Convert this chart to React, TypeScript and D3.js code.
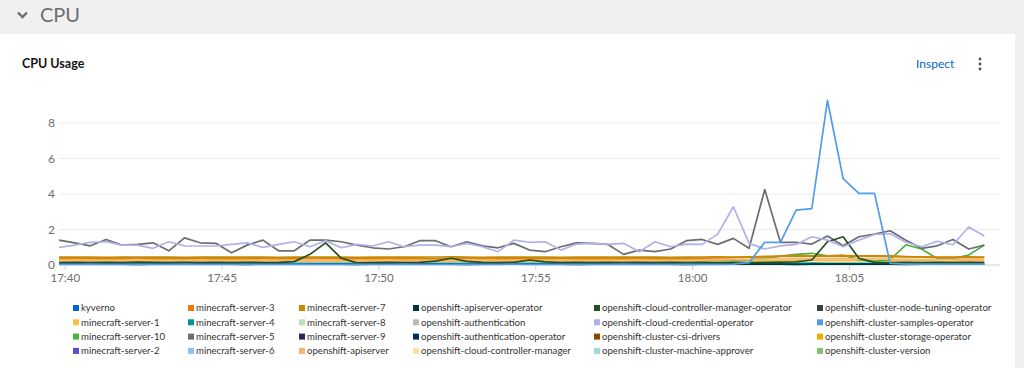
import React, { useEffect, useRef } from 'react';
import * as d3 from 'd3';

// time window shown on the chart (last 30 min)
const windowStart = new Date(2024, 0, 1, 17, 39, 48);
const windowEnd = new Date(2024, 0, 1, 18, 9, 48);
const stepSeconds = 30;

const xTickLabels = ['17:40', '17:45', '17:50', '17:55', '18:00', '18:05'];
const yTickValues = [0, 2, 4, 6, 8];

const seriesNames = [
  'kyverno', 'minecraft-server-1', 'minecraft-server-10', 'minecraft-server-2',
  'minecraft-server-3', 'minecraft-server-4', 'minecraft-server-5', 'minecraft-server-6',
  'minecraft-server-7', 'minecraft-server-8', 'minecraft-server-9', 'openshift-apiserver',
  'openshift-apiserver-operator', 'openshift-authentication', 'openshift-authentication-operator', 'openshift-cloud-controller-manager',
  'openshift-cloud-controller-manager-operator', 'openshift-cloud-credential-operator', 'openshift-cluster-csi-drivers', 'openshift-cluster-machine-approver',
  'openshift-cluster-node-tuning-operator', 'openshift-cluster-samples-operator', 'openshift-cluster-storage-operator', 'openshift-cluster-version'
];

const seriesColors = [
  '#0066cc', '#f4c145', '#4cb140', '#5752d1',
  '#ec7a08', '#009596', '#6a6e73', '#8bc1f7',
  '#c58c00', '#bde2b9', '#2a265f', '#f4b678',
  '#003737', '#b8bbbe', '#002f5d', '#f9e0a2',
  '#23511e', '#b2b0ea', '#8f4700', '#a2d9d9',
  '#3c3f42', '#519de9', '#f0ab00', '#7cc674'
];

// CPU cores per namespace, one value every 30s
const minecraft5 = [
  1.40, 1.25, 1.08, 1.44, 1.12, 1.16, 1.25, 0.80, 1.53, 1.25,
  1.22, 0.69, 1.12, 1.40, 0.80, 0.80, 1.40, 1.40, 1.31, 1.12,
  0.97, 0.90, 1.03, 1.37, 1.37, 1.03, 1.31, 1.08, 0.97, 1.22,
  0.84, 0.75, 1.03, 1.25, 1.22, 1.16, 0.60, 0.84, 0.75, 0.90,
  1.37, 1.44, 1.16, 1.50, 0.94, 4.25, 1.28, 1.28, 1.18, 1.63,
  1.08, 1.59, 1.74, 1.93, 1.40, 0.94, 1.08, 1.44, 0.90, 1.12
];

const cloudCredential = [
  0.99, 1.12, 1.28, 1.31, 1.12, 1.12, 0.94, 1.31, 1.08, 1.07,
  1.07, 1.16, 1.25, 0.99, 1.16, 1.31, 1.03, 1.37, 0.97, 1.16,
  1.07, 1.31, 1.03, 1.12, 1.12, 1.03, 1.22, 1.03, 0.75, 1.40,
  1.28, 1.31, 0.84, 1.18, 1.22, 1.16, 1.22, 0.75, 1.31, 1.03,
  1.18, 1.16, 1.74, 3.28, 1.22, 0.90, 1.08, 1.16, 1.59, 1.40,
  1.03, 1.40, 1.72, 1.76, 1.28, 1.03, 1.34, 1.14, 2.14, 1.63
];

const samplesOperator = [
  0.04, 0.04, 0.05, 0.04, 0.04, 0.03, 0.04, 0.04, 0.05, 0.04,
  0.04, 0.04, 0.03, 0.04, 0.04, 0.05, 0.04, 0.04, 0.04, 0.03,
  0.04, 0.04, 0.05, 0.04, 0.04, 0.04, 0.03, 0.04, 0.04, 0.05,
  0.04, 0.04, 0.04, 0.03, 0.04, 0.04, 0.05, 0.04, 0.04, 0.04,
  0.03, 0.04, 0.04, 0.05, 0.13, 1.28, 1.28, 3.09, 3.18, 9.27,
  4.87, 4.03, 4.03, 0.09, 0.05, 0.05, 0.05, 0.05, 0.05, 0.05
];

const ccmOperator = [
  0.14, 0.15, 0.14, 0.15, 0.14, 0.16, 0.15, 0.14, 0.15, 0.14,
  0.15, 0.14, 0.15, 0.14, 0.15, 0.19, 0.60, 1.25, 0.38, 0.12,
  0.14, 0.15, 0.14, 0.15, 0.22, 0.38, 0.20, 0.15, 0.14, 0.15,
  0.28, 0.18, 0.14, 0.15, 0.14, 0.15, 0.14, 0.15, 0.14, 0.15,
  0.14, 0.15, 0.14, 0.15, 0.14, 0.15, 0.16, 0.18, 0.28, 1.31,
  1.59, 0.38, 0.15, 0.14, 0.15, 0.14, 0.15, 0.14, 0.15, 0.14
];

const minecraft10 = [
  0.36, 0.38, 0.37, 0.35, 0.34, 0.33, 0.35, 0.36, 0.34, 0.33,
  0.32, 0.33, 0.34, 0.35, 0.33, 0.32, 0.31, 0.33, 0.35, 0.34,
  0.32, 0.33, 0.34, 0.32, 0.31, 0.33, 0.34, 0.32, 0.31, 0.30,
  0.32, 0.33, 0.31, 0.30, 0.32, 0.34, 0.33, 0.31, 0.30, 0.32,
  0.33, 0.31, 0.30, 0.29, 0.30, 0.38, 0.50, 0.60, 0.66, 0.52,
  0.55, 0.30, 0.20, 0.30, 1.14, 0.90, 0.36, 0.36, 0.56, 1.12
];

const minecraft7 = [
  0.44, 0.45, 0.44, 0.43, 0.44, 0.45, 0.44, 0.44, 0.43, 0.45,
  0.44, 0.44, 0.45, 0.44, 0.43, 0.44, 0.45, 0.44, 0.44, 0.43,
  0.44, 0.45, 0.44, 0.44, 0.45, 0.46, 0.44, 0.43, 0.44, 0.45,
  0.44, 0.44, 0.43, 0.44, 0.45, 0.44, 0.44, 0.45, 0.44, 0.43,
  0.44, 0.45, 0.46, 0.45, 0.46, 0.47, 0.48, 0.48, 0.49, 0.48,
  0.49, 0.48, 0.48, 0.47, 0.46, 0.46, 0.45, 0.45, 0.46, 0.45
];

const minecraft3 = [
  0.36, 0.37, 0.36, 0.35, 0.36, 0.37, 0.36, 0.38, 0.36, 0.35,
  0.36, 0.37, 0.36, 0.36, 0.35, 0.36, 0.37, 0.38, 0.36, 0.35,
  0.36, 0.36, 0.37, 0.36, 0.35, 0.38, 0.40, 0.37, 0.36, 0.36,
  0.35, 0.36, 0.37, 0.36, 0.36, 0.35, 0.36, 0.37, 0.36, 0.35,
  0.36, 0.38, 0.40, 0.42, 0.44, 0.47, 0.50, 0.51, 0.52, 0.52,
  0.53, 0.52, 0.52, 0.51, 0.47, 0.44, 0.42, 0.41, 0.42, 0.41
];

const apiserver = [
  0.28, 0.29, 0.28, 0.27, 0.28, 0.30, 0.28, 0.27, 0.28, 0.29,
  0.28, 0.28, 0.27, 0.29, 0.28, 0.28, 0.30, 0.29, 0.28, 0.27,
  0.28, 0.29, 0.28, 0.28, 0.27, 0.29, 0.31, 0.29, 0.28, 0.28,
  0.27, 0.28, 0.29, 0.28, 0.28, 0.27, 0.28, 0.29, 0.28, 0.27,
  0.28, 0.29, 0.30, 0.31, 0.32, 0.33, 0.34, 0.34, 0.35, 0.34,
  0.35, 0.34, 0.34, 0.33, 0.32, 0.31, 0.31, 0.30, 0.31, 0.30
];

const minecraft1 = [
  0.22, 0.21, 0.22, 0.22, 0.23, 0.22, 0.21, 0.22, 0.22, 0.23,
  0.22, 0.22, 0.21, 0.22, 0.23, 0.22, 0.22, 0.21, 0.22, 0.22,
  0.23, 0.22, 0.22, 0.21, 0.22, 0.22, 0.23, 0.22, 0.22, 0.21,
  0.22, 0.22, 0.23, 0.22, 0.21, 0.22, 0.22, 0.23, 0.22, 0.22,
  0.21, 0.22, 0.23, 0.23, 0.24, 0.25, 0.25, 0.26, 0.26, 0.25,
  0.26, 0.25, 0.25, 0.24, 0.23, 0.23, 0.22, 0.22, 0.23, 0.22
];

const minecraft4 = [
  0.10, 0.10, 0.11, 0.10, 0.09, 0.10, 0.10, 0.11, 0.10, 0.10,
  0.09, 0.10, 0.10, 0.11, 0.10, 0.10, 0.10, 0.09, 0.10, 0.10,
  0.11, 0.10, 0.10, 0.10, 0.09, 0.10, 0.10, 0.11, 0.10, 0.10,
  0.10, 0.09, 0.10, 0.10, 0.11, 0.10, 0.10, 0.10, 0.09, 0.10,
  0.10, 0.11, 0.10, 0.10, 0.10, 0.09, 0.10, 0.10, 0.11, 0.10,
  0.10, 0.10, 0.09, 0.10, 0.10, 0.11, 0.10, 0.10, 0.10, 0.09
];

const apiserverOperator = [
  0.05, 0.05, 0.06, 0.05, 0.05, 0.04, 0.05, 0.05, 0.06, 0.05,
  0.05, 0.05, 0.04, 0.05, 0.05, 0.06, 0.05, 0.05, 0.05, 0.04,
  0.05, 0.05, 0.06, 0.05, 0.05, 0.05, 0.04, 0.05, 0.05, 0.06,
  0.05, 0.05, 0.05, 0.04, 0.05, 0.05, 0.06, 0.05, 0.05, 0.05,
  0.04, 0.05, 0.05, 0.06, 0.05, 0.05, 0.05, 0.04, 0.05, 0.05,
  0.06, 0.05, 0.05, 0.05, 0.04, 0.05, 0.05, 0.06, 0.05, 0.05
];

const seriesValues: Record<string, number[]> = {
  'minecraft-server-1': minecraft1,
  'minecraft-server-10': minecraft10,
  'minecraft-server-3': minecraft3,
  'minecraft-server-4': minecraft4,
  'minecraft-server-5': minecraft5,
  'minecraft-server-7': minecraft7,
  'openshift-apiserver': apiserver,
  'openshift-apiserver-operator': apiserverOperator,
  'openshift-cloud-controller-manager-operator': ccmOperator,
  'openshift-cloud-credential-operator': cloudCredential,
  'openshift-cluster-samples-operator': samplesOperator
};

// legend column left edges (swatch x)
const legendColumnX = [73, 188, 299, 413, 594, 817];

const FONT = 'Lato, "Open Sans", sans-serif';

const App: React.FC = () => {
  const svgRef = useRef<SVGSVGElement>(null);

  useEffect(() => {
    if (!svgRef.current) return;
    document.body.style.margin = '0';

    const width = 1024;
    const height = 368;
    const plot = { left: 59, right: 1000, zero: 265 };

    const svg = d3.select(svgRef.current).attr('width', width).attr('height', height);
    svg.selectAll('*').remove();

    // page background and card
    svg.append('rect').attr('width', width).attr('height', height).attr('fill', '#f0f0f0');
    svg.append('rect').attr('x', 0).attr('y', 34).attr('width', 1015).attr('height', height - 34).attr('fill', '#ffffff');

    // section header
    svg.append('path')
      .attr('d', 'M18,12.5 L22.5,17 L27,12.5')
      .attr('fill', 'none')
      .attr('stroke', '#6a6e73')
      .attr('stroke-width', 2.4);
    svg.append('text')
      .attr('x', 40).attr('y', 22)
      .attr('font-family', FONT).attr('font-size', 20)
      .attr('fill', '#6a6e73')
      .text('CPU');

    // card header
    svg.append('text')
      .attr('x', 22).attr('y', 68)
      .attr('font-family', FONT).attr('font-size', 12.5).attr('font-weight', 700)
      .attr('fill', '#151515')
      .text('CPU Usage');
    svg.append('text')
      .attr('x', 916).attr('y', 67.5)
      .attr('font-family', FONT).attr('font-size', 12)
      .attr('fill', '#0066cc')
      .text('Inspect');
    [59, 64, 69].forEach(cy => {
      svg.append('circle').attr('cx', 980).attr('cy', cy).attr('r', 1.4).attr('fill', '#4f5255');
    });

    // scales
    const xScale = d3.scaleTime().domain([windowStart, windowEnd]).range([plot.left, plot.right]);
    const yScale = d3.scaleLinear().domain([0, 10]).range([plot.zero, plot.zero - 177.5]);

    // grid
    svg.append('g')
      .selectAll('line')
      .data(yTickValues.filter(v => v > 0))
      .join('line')
      .attr('x1', plot.left).attr('x2', plot.right)
      .attr('y1', d => yScale(d)).attr('y2', d => yScale(d))
      .attr('stroke', '#ededed');

    // y tick labels
    svg.append('g')
      .selectAll('text')
      .data(yTickValues)
      .join('text')
      .attr('x', 55)
      .attr('y', d => yScale(d))
      .attr('dy', '0.36em')
      .attr('text-anchor', 'end')
      .attr('font-family', FONT).attr('font-size', 12)
      .attr('fill', '#6a6e73')
      .text(d => String(d));

    // x axis
    svg.append('line')
      .attr('x1', plot.left).attr('x2', plot.right)
      .attr('y1', plot.zero).attr('y2', plot.zero)
      .attr('stroke', '#d2d2d2');

    const xTicks = xTickLabels.map(label => {
      const [h, m] = label.split(':').map(Number);
      return { label, time: new Date(2024, 0, 1, h, m, 0) };
    });
    const xt = svg.append('g').selectAll('g').data(xTicks).join('g')
      .attr('transform', d => `translate(${xScale(d.time)},${plot.zero})`);
    xt.append('line').attr('y1', 0).attr('y2', 5).attr('stroke', '#d2d2d2');
    xt.append('text')
      .attr('y', 17)
      .attr('text-anchor', 'middle')
      .attr('font-family', FONT).attr('font-size', 11.5)
      .attr('fill', '#6a6e73')
      .text(d => d.label);

    // lines
    type Pt = { time: Date; value: number };
    const line = d3.line<Pt>()
      .x(d => xScale(d.time))
      .y(d => yScale(d.value));

    seriesNames.forEach((name, i) => {
      const values = seriesValues[name];
      if (!values) return;
      const points: Pt[] = values.map((v, k) => ({
        time: new Date(windowStart.getTime() + k * stepSeconds * 1000),
        value: v
      }));
      svg.append('path')
        .datum(points)
        .attr('fill', 'none')
        .attr('stroke', seriesColors[i])
        .attr('stroke-width', 1.7)
        .attr('stroke-linejoin', 'round')
        .attr('d', line);
    });

    // legend, column-major, 4 rows
    const legend = svg.append('g');
    seriesNames.forEach((name, i) => {
      const col = Math.floor(i / 4);
      const row = i % 4;
      const x = legendColumnX[col];
      const y = 308 + row * 14.3;
      legend.append('rect')
        .attr('x', x).attr('y', y - 3)
        .attr('width', 6).attr('height', 6)
        .attr('fill', seriesColors[i]);
      legend.append('text')
        .attr('x', x + 8).attr('y', y)
        .attr('dy', '0.35em')
        .attr('font-family', FONT).attr('font-size', 9.6)
        .attr('fill', '#333333')
        .text(name);
    });
  }, []);

  return <svg ref={svgRef} style={{ display: 'block' }} />;
};

export default App;
